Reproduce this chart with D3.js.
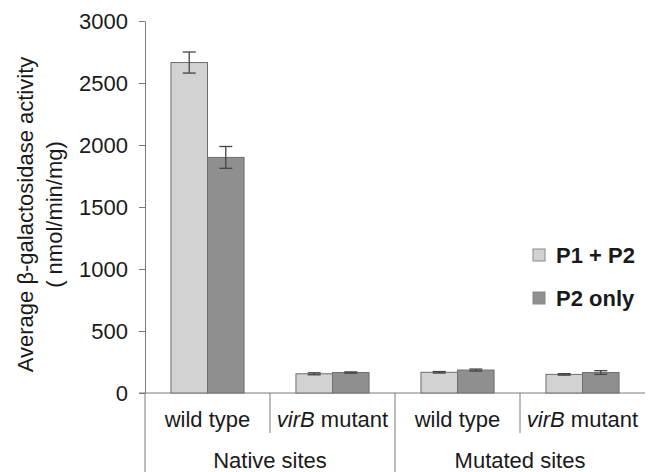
<!DOCTYPE html>
<html>
<head>
<meta charset="utf-8">
<script src="https://cdn.jsdelivr.net/npm/d3@7"></script>
<style>
  body { margin: 0; background: #fff; }
  text { font-family: "Liberation Sans", Arial, sans-serif; fill: #1a1a1a; }
</style>
</head>
<body>
<div id="chart"></div>
<script>
const categories = ['nat-wt', 'nat-virB', 'mut-wt', 'mut-virB'];
const categoryLabels = [['', 'wild type'], ['virB', ' mutant'], ['', 'wild type'], ['virB', ' mutant']];
const groups = ['Native sites', 'Mutated sites'];
const series = ['P1 + P2', 'P2 only'];
const p1p2 = [2665, 155, 167, 150];
const p1p2Err = [85, 8, 6, 6];
const p2only = [1900, 165, 185, 165];
const p2onlyErr = [88, 5, 8, 15];
const yTicks = [0, 500, 1000, 1500, 2000, 2500, 3000];

const colors = ['#d2d2d2', '#8f8f8f'];
const W = 649, H = 472;
const margin = {top: 21, left: 145, right: 4, bottom: 79};
const width = W - margin.left - margin.right;
const height = H - margin.top - margin.bottom;
const fs = '22px';

const svg = d3.select('#chart').append('svg')
  .attr('width', W).attr('height', H)
  .append('g')
  .attr('transform', `translate(${margin.left},${margin.top})`);

const x0 = d3.scaleBand().domain(categories).range([0, width]);
const x1 = d3.scaleBand().domain(series).range([0, x0.bandwidth()]).paddingOuter(0.71);
const y = d3.scaleLinear().domain([0, 3000]).range([height, 0]);

const rows = categories.map((c, i) => ({
  cat: c,
  vals: [
    {s: series[0], v: p1p2[i], e: p1p2Err[i]},
    {s: series[1], v: p2only[i], e: p2onlyErr[i]},
  ],
}));

/* y axis */
const yAxis = d3.axisLeft(y).tickValues(yTicks).tickFormat(d3.format('d'))
  .tickSizeInner(6).tickSizeOuter(0).tickPadding(11);
const yG = svg.append('g').attr('class', 'y axis').call(yAxis);
yG.select('.domain').attr('stroke', '#7a7a7a');
yG.selectAll('.tick line').attr('stroke', '#7a7a7a');
yG.selectAll('.tick text').style('font-size', fs).attr('fill', '#1a1a1a');
// axis line continues down through the category labels
svg.append('line')
  .attr('x1', 0).attr('x2', 0).attr('y1', height).attr('y2', H - margin.top)
  .attr('stroke', '#7a7a7a');

/* x axis baseline */
svg.append('line')
  .attr('x1', -6).attr('x2', width).attr('y1', height).attr('y2', height)
  .attr('stroke', '#7a7a7a');

/* separators */
categories.forEach((c, i) => {
  if (i === 0) return;
  const big = i === 2;
  svg.append('line')
    .attr('x1', x0(c)).attr('x2', x0(c))
    .attr('y1', height).attr('y2', big ? H - margin.top : height + 40)
    .attr('stroke', '#7a7a7a');
});

/* bars */
const cat = svg.selectAll('.cat').data(rows).enter().append('g')
  .attr('class', 'cat')
  .attr('transform', d => `translate(${x0(d.cat)},0)`);

cat.selectAll('rect').data(d => d.vals).enter().append('rect')
  .attr('x', d => x1(d.s))
  .attr('y', d => y(d.v))
  .attr('width', x1.bandwidth())
  .attr('height', d => height - y(d.v))
  .attr('fill', (d, i) => colors[i])
  .attr('stroke', '#6e6e6e')
  .attr('stroke-width', 1);

const eb = cat.selectAll('.err').data(d => d.vals).enter().append('g').attr('class', 'err')
  .attr('stroke', '#444').attr('stroke-width', 1.3);
eb.append('line')
  .attr('x1', d => x1(d.s) + x1.bandwidth() / 2).attr('x2', d => x1(d.s) + x1.bandwidth() / 2)
  .attr('y1', d => y(d.v + d.e)).attr('y2', d => y(d.v - d.e));
['+', '-'].forEach(sgn => {
  eb.append('line')
    .attr('x1', d => x1(d.s) + x1.bandwidth() / 2 - 6.5)
    .attr('x2', d => x1(d.s) + x1.bandwidth() / 2 + 6.5)
    .attr('y1', d => y(sgn === '+' ? d.v + d.e : d.v - d.e))
    .attr('y2', d => y(sgn === '+' ? d.v + d.e : d.v - d.e));
});

/* category labels */
categories.forEach((c, i) => {
  const t = svg.append('text')
    .attr('x', x0(c) + x0.bandwidth() / 2)
    .attr('y', height + 34)
    .style('text-anchor', 'middle')
    .style('font-size', fs);
  if (categoryLabels[i][0]) t.append('tspan').style('font-style', 'italic').text(categoryLabels[i][0]);
  t.append('tspan').text(categoryLabels[i][1]);
});

/* group labels */
groups.forEach((g, i) => {
  svg.append('text')
    .attr('x', x0(categories[i * 2]) + x0.bandwidth())
    .attr('y', height + 75)
    .style('text-anchor', 'middle')
    .style('font-size', fs)
    .text(g);
});

/* y label */
const yl = svg.append('text')
  .attr('transform', `translate(${-112},${(379 + 50) / 2 - margin.top}) rotate(-90)`)
  .style('text-anchor', 'middle')
  .style('font-size', fs);
yl.append('tspan').attr('x', 0).attr('dy', 0).text('Average β-galactosidase activity');
yl.append('tspan').attr('x', 0).attr('dy', 29).text('( nmol/min/mg)');

/* legend */
const legend = svg.selectAll('.legend').data(series).enter().append('g')
  .attr('class', 'legend')
  .attr('transform', (d, i) => `translate(${388},${228 + i * 43})`);
legend.append('rect')
  .attr('width', 12).attr('height', 12)
  .attr('fill', (d, i) => colors[i])
  .attr('stroke', '#888');
legend.append('text')
  .attr('x', 23).attr('y', 14)
  .style('font-size', fs).style('font-weight', 'bold')
  .text(d => d);
</script>
</body>
</html>
